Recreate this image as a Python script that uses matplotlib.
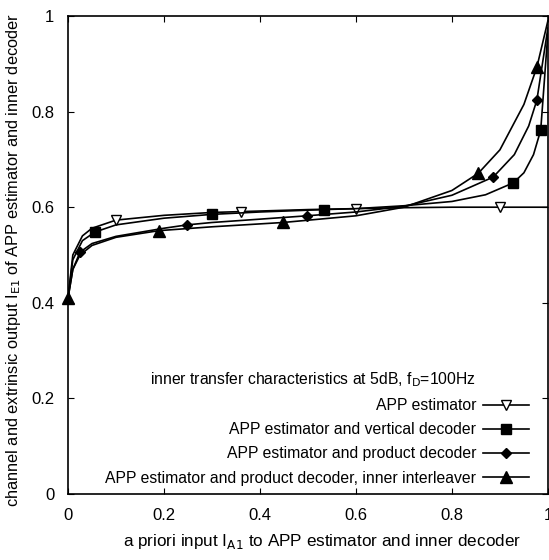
import numpy as np
import matplotlib
matplotlib.use('Agg')
import matplotlib.pyplot as plt
from matplotlib.lines import Line2D

plt.rcParams['font.family'] = ['Liberation Sans', 'DejaVu Sans']

# curve samples
x_est = [0, 0.01, 0.03, 0.05, 0.1, 0.2, 0.3, 0.4, 0.5, 0.6, 0.7, 0.8, 0.9, 1.0]
y_est = [0.41, 0.50, 0.54, 0.556, 0.573, 0.583, 0.589, 0.592, 0.595, 0.597, 0.599, 0.600, 0.600, 0.600]
mx_est = [0.10, 0.36, 0.60, 0.90]
my_est = [0.573, 0.591, 0.597, 0.600]

x_vert = [0, 0.01, 0.03, 0.056, 0.1, 0.2, 0.3, 0.4, 0.533, 0.6, 0.7, 0.8, 0.87, 0.928, 0.95, 0.97, 0.985, 1.0]
y_vert = [0.41, 0.49, 0.53, 0.548, 0.563, 0.577, 0.585, 0.590, 0.595, 0.597, 0.603, 0.612, 0.626, 0.651, 0.672, 0.71, 0.761, 0.965]
mx_vert = [0.056, 0.30, 0.533, 0.928, 0.985]
my_vert = [0.548, 0.585, 0.595, 0.651, 0.761]

x_prod = [0, 0.01, 0.025, 0.05, 0.1, 0.2, 0.248, 0.3, 0.4, 0.498, 0.6, 0.7, 0.8, 0.886, 0.93, 0.96, 0.977, 1.0]
y_prod = [0.41, 0.47, 0.506, 0.524, 0.539, 0.556, 0.563, 0.568, 0.575, 0.582, 0.590, 0.602, 0.625, 0.663, 0.71, 0.77, 0.824, 0.975]
mx_prod = [0.025, 0.248, 0.498, 0.886, 0.977]
my_prod = [0.506, 0.563, 0.582, 0.663, 0.824]

x_intl = [0, 0.01, 0.025, 0.05, 0.1, 0.19, 0.3, 0.448, 0.6, 0.7, 0.8, 0.855, 0.9, 0.95, 0.977, 1.0]
y_intl = [0.41, 0.47, 0.50, 0.52, 0.537, 0.551, 0.559, 0.568, 0.582, 0.600, 0.635, 0.671, 0.72, 0.815, 0.893, 0.99]
mx_intl = [0, 0.19, 0.448, 0.855, 0.977]
my_intl = [0.41, 0.551, 0.568, 0.671, 0.893]

legend_title = 'inner transfer characteristics at 5dB, f$_{\\mathrm{D}}$=100Hz'
labels = ['APP estimator',
          'APP estimator and vertical decoder',
          'APP estimator and product decoder',
          'APP estimator and product decoder, inner interleaver']
ticks = [0, 0.2, 0.4, 0.6, 0.8, 1]
tick_labels = ['0', '0.2', '0.4', '0.6', '0.8', '1']

fig = plt.figure(figsize=(5.49, 5.60), dpi=100)
ax = fig.add_axes([0.1239, 0.1179, 0.8741, 0.8535])

series = [
    (x_est, y_est, mx_est, my_est, dict(marker='v', mfc='white', ms=7.5)),
    (x_vert, y_vert, mx_vert, my_vert, dict(marker='s', mfc='black', ms=6.5)),
    (x_prod, y_prod, mx_prod, my_prod, dict(marker='D', mfc='black', ms=5)),
    (x_intl, y_intl, mx_intl, my_intl, dict(marker='^', mfc='black', ms=8)),
]
handles = [Line2D([], [], ls='none', marker='none')]
for (xs, ys, mxs, mys, mk), lab in zip(series, labels):
    ax.plot(xs, ys, color='black', lw=1.2)
    ax.plot(mxs, mys, ls='none', color='black', mec='black', mew=1.0, clip_on=False, **mk)
    h, = ax.plot([], [], color='black', lw=1.2, mec='black', mew=1.0, **mk)
    handles.append(h)

leg = ax.legend(handles, [legend_title] + labels, loc='lower right',
                bbox_to_anchor=(0.99, -0.012), frameon=False, markerfirst=False,
                fontsize=11.3, handlelength=2.9, handletextpad=0.45,
                labelspacing=0.58, alignment='right')

ax.set_xlim(0, 1)
ax.set_ylim(0, 1)
ax.set_xticks(ticks)
ax.set_yticks(ticks)
ax.set_xticklabels(tick_labels)
ax.set_yticklabels(tick_labels)
ax.tick_params(direction='in', length=4, width=0.8, top=True, right=True,
               labelsize=12, pad=10)
for s in ax.spines.values():
    s.set_linewidth(1.2)

ax.set_xlabel('a priori input I$_{\\mathrm{A1}}$ to APP estimator and inner decoder',
              fontsize=12.3)
ax.xaxis.set_label_coords(0.53, -0.08)
ax.set_ylabel('channel and extrinsic output I$_{\\mathrm{E1}}$ of APP estimator and inner decoder',
              fontsize=11.8)
ax.yaxis.set_label_coords(-0.094, 0.49)

fig.savefig('out.png', dpi=100)
